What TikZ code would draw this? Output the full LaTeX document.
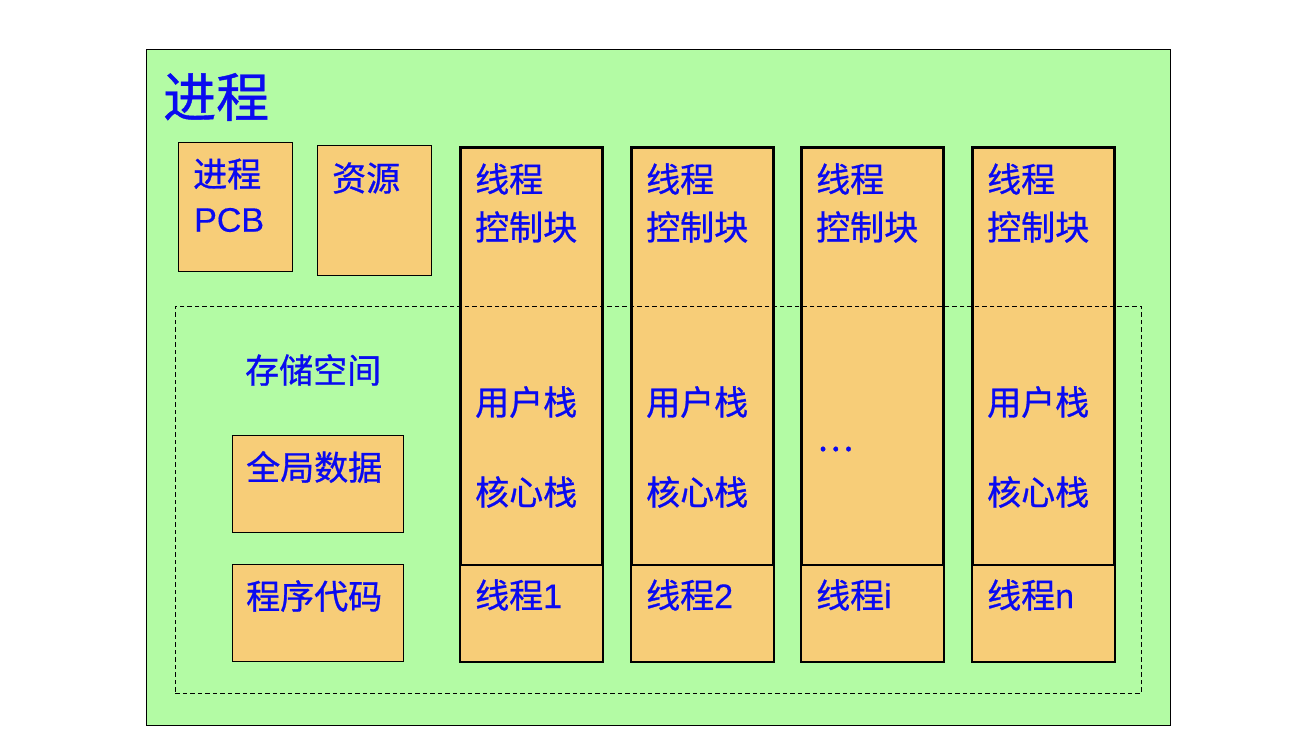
\documentclass[tikz,border=0pt]{standalone}
\usepackage{fontspec}
\setmainfont{Noto Sans CJK SC}[FakeBold=0.8]
\newfontfamily\lat{Liberation Sans}[FakeBold=0.4]
\definecolor{bggreen}{RGB}{179,251,164}
\definecolor{boxorange}{RGB}{247,205,120}
\definecolor{txtblue}{RGB}{10,10,240}
\tikzset{
  lbl/.style={anchor=west, inner sep=0pt, text=txtblue, font=\fontsize{34}{40}\selectfont},
  bigtitle/.style={anchor=west, inner sep=0pt, text=txtblue, font=\fontsize{53}{60}\selectfont},
  procbox/.style={draw=black, fill=bggreen, line width=1pt, anchor=north west, inner sep=0pt},
  obox/.style={draw=black, fill=boxorange, line width=1.2pt, anchor=north west, inner sep=0pt},
  colbox/.style={draw=black, fill=boxorange, line width=3pt, anchor=north west, inner sep=0pt},
  basebox/.style={draw=black, fill=boxorange, line width=2pt, anchor=north west, inner sep=0pt},
  dashbox/.style={draw=black, line width=0.9pt, dash pattern=on 4.5pt off 3pt, anchor=north west, inner sep=0pt},
}
\begin{document}
\begin{tikzpicture}[x=1pt,y=-1pt]
\fill[white] (0,0) rectangle (1314,748);
\useasboundingbox (0,0) rectangle (1314,748);
% process
\node[procbox, minimum width=1024pt, minimum height=676pt] (proc) at (146,49) {};
\node[bigtitle] (title) at (163,97) {进程};
% PCB and resources
\node[obox, minimum width=114pt, minimum height=129pt] (pcb) at (178,142) {};
\node[lbl] (pcbA) at (193,174) {进程};
\node[lbl] (pcbB) at (194,220) {\lat PCB};
\node[obox, minimum width=114pt, minimum height=130pt] (res) at (317,145) {};
\node[lbl] (resA) at (332,178) {资源};
% storage
\node[obox, minimum width=171pt, minimum height=97pt] (glob) at (232,435) {};
\node[lbl] (globT) at (246,467) {全局数据};
\node[obox, minimum width=171pt, minimum height=97pt] (code) at (232,564) {};
\node[lbl] (codeT) at (246,596) {程序代码};
\node[lbl] (storT) at (245,370) {存储空间};
% threads
\foreach \x/\i/\lab in {459/1/1, 630/2/2, 800/3/i, 971/4/n}{
  \node[colbox, minimum width=142pt, minimum height=418pt] (col\i) at (\x,146) {};
  \node[basebox, minimum width=143pt, minimum height=97pt] (base\i) at (\x,564) {};
  \node[lbl] (tcbA\i) at (\x+16,179) {线程};
  \node[lbl] (tcbB\i) at (\x+16,227) {控制块};
  \node[lbl] (name\i) at (\x+16,595) {线程{\lat\lab}};
}
\foreach \x/\i in {459/1, 630/2, 971/4}{
  \node[lbl] (ustk\i) at (\x+16,402) {用户栈};
  \node[lbl] (kstk\i) at (\x+16,492) {核心栈};
}
\node[lbl] (dots3) at (817,449) {…};
% dashed storage region
\node[dashbox, minimum width=966pt, minimum height=387pt] (storage) at (175,306) {};
\end{tikzpicture}
\end{document}
